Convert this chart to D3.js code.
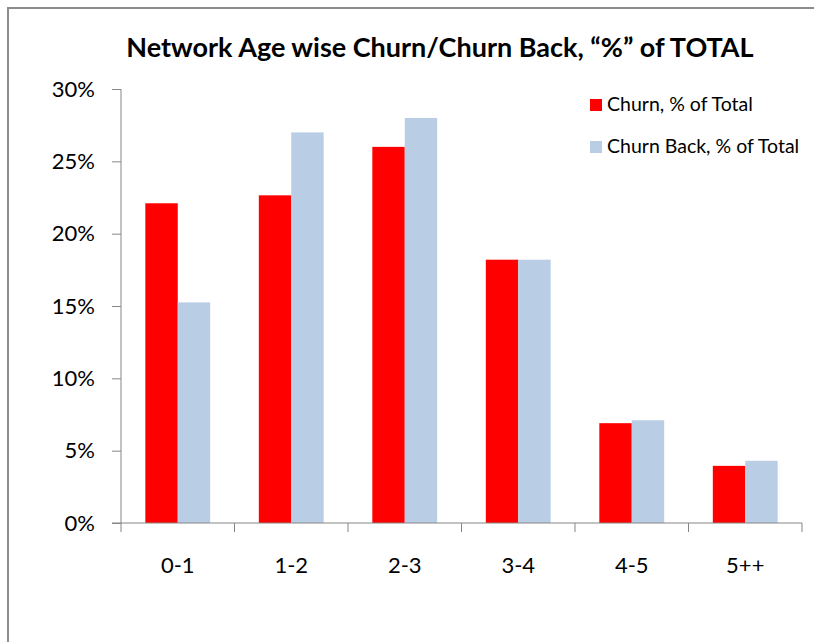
<!DOCTYPE html>
<html lang="en">
<head>
<meta charset="UTF-8">
<title>Network Age wise Churn</title>
<script src="https://d3js.org/d3.v7.min.js"></script>
<style>
  body { margin: 0; background: #fff; }
  text { font-family: Lato, "Open Sans", sans-serif; fill: #000; }
</style>
</head>
<body>
<div id="chart"></div>
<script>
// data
var categories = ["0-1", "1-2", "2-3", "3-4", "4-5", "5++"];
var churn      = [22.1, 22.65, 26.0, 18.2, 6.9, 3.95];
var churnBack  = [15.25, 27.0, 28.0, 18.2, 7.1, 4.3];
var yTicks     = [0, 5, 10, 15, 20, 25, 30];
var seriesNames = ["Churn, % of Total", "Churn Back, % of Total"];
var colors = ["#ff0000", "#b9cde5"];

var W = 814, H = 642;
var margin = {top: 89, right: 12, bottom: 119, left: 121};
var width = 802 - margin.left,
    height = 523 - margin.top;

var svg = d3.select("#chart").append("svg")
    .attr("width", W).attr("height", H);

// outer frame
svg.append("rect")
    .attr("x", 8).attr("y", 8)
    .attr("width", 820).attr("height", 660)
    .attr("fill", "none").attr("stroke", "#8c8c8c").attr("stroke-width", 2);

svg.append("text")
    .attr("x", 440).attr("y", 57)
    .attr("text-anchor", "middle")
    .attr("font-size", 27).attr("font-weight", "bold")
    .text("Network Age wise Churn/Churn Back, \u201c%\u201d of TOTAL");

var g = svg.append("g")
    .attr("transform", "translate(" + margin.left + "," + margin.top + ")");

var x = d3.scaleBand().domain(categories).range([0, width]);
var y = d3.scaleLinear().domain([0, 30]).range([height, 0]);

var bw = x.bandwidth() / 3.5;
var rows = categories.map(function(c, i) { return {cat: c, vals: [churn[i], churnBack[i]]}; });

// bars
var grp = g.selectAll(".grp").data(rows).enter().append("g")
    .attr("transform", function(d) { return "translate(" + (x(d.cat) + x.bandwidth() / 2 - bw) + ",0)"; });
grp.selectAll("rect").data(function(d) { return d.vals; }).enter().append("rect")
    .attr("x", function(d, i) { return i * bw; })
    .attr("y", function(d) { return y(d); })
    .attr("width", bw)
    .attr("height", function(d) { return height - y(d); })
    .attr("fill", function(d, i) { return colors[i]; });

// y axis
var yAxis = g.append("g")
    .call(d3.axisLeft(y).tickValues(yTicks).tickSize(9).tickPadding(17)
        .tickFormat(function(d) { return d + "%"; }));
yAxis.select(".domain").attr("stroke", "#868686").attr("d", "M0," + height + "V0");
yAxis.selectAll(".tick line").attr("stroke", "#868686");
yAxis.selectAll("text").attr("font-size", 22).style("font-family", "Lato, sans-serif");

// x axis with ticks at category boundaries
var xAxis = g.append("g").attr("transform", "translate(0," + height + ")")
    .call(d3.axisBottom(x).tickSize(0).tickPadding(34));
xAxis.select(".domain").attr("stroke", "#868686").attr("d", "M-9,0H" + width);
xAxis.selectAll("text").attr("font-size", 22).style("font-family", "Lato, sans-serif");
xAxis.selectAll(".sep").data(categories.concat([null])).enter().append("line")
    .attr("x1", function(d, i) { return i * x.step(); })
    .attr("x2", function(d, i) { return i * x.step(); })
    .attr("y1", 0).attr("y2", 9)
    .attr("stroke", "#868686");

// legend
var leg = svg.append("g").attr("transform", "translate(590,99)");
seriesNames.forEach(function(n, i) {
  leg.append("rect").attr("x", 0).attr("y", i * 42)
      .attr("width", 12).attr("height", 12).attr("fill", colors[i]);
  leg.append("text").attr("x", 17).attr("y", i * 42 + 12)
      .attr("font-size", 19.5).text(n);
});
</script>
</body>
</html>
